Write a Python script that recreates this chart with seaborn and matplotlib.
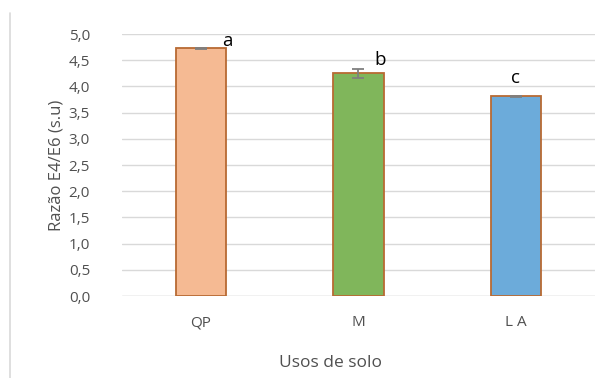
import matplotlib
matplotlib.use("Agg")
import matplotlib.pyplot as plt
import seaborn as sns
import pandas as pd
from matplotlib.lines import Line2D

usos = ["QP", "M", "L A"]
razao = [4.73, 4.25, 3.81]
erro = [0.01, 0.09, 0.01]
letras = ["a", "b", "c"]
cores = ["#F5BA93", "#80B65B", "#6CABDA"]

sns.set_theme(style="white")
plt.rcParams["font.family"] = ["Open Sans", "DejaVu Sans"]

df = pd.DataFrame({"uso": usos, "razao": razao})

fig = plt.figure(figsize=(6.05, 3.78), dpi=100)
ax = fig.add_axes([0.2017, 0.2169, 0.7813, 0.6931])

sns.barplot(data=df, x="uso", y="razao", hue="uso", palette=cores,
            order=usos, legend=False, width=0.32, ax=ax,
            edgecolor="#B86A33", linewidth=1.3, errorbar=None, saturation=1)

ax.errorbar(range(len(usos)), razao, yerr=erro, fmt="none",
            ecolor="#7F7F7F", elinewidth=1.3, capsize=4, capthick=1.3, zorder=5)

# significance letters, placed beside/above each bar
desloc_x = [0.17, 0.14, 0.0]
desloc_y = [0.04, 0.16, 0.25]
for i, (v, t) in enumerate(zip(razao, letras)):
    ax.text(i + desloc_x[i], v + desloc_y[i], t, ha="center", va="baseline",
            fontsize=13.5, color="black")

ax.set_ylim(0, 5.0)
ax.set_xlim(-0.5, 2.5)
ax.set_yticks([i * 0.5 for i in range(11)])
ax.set_yticklabels([f"{i * 0.5:.1f}".replace(".", ",") for i in range(11)])
ax.yaxis.grid(True, color="#D9D9D9", linewidth=1.0)
ax.set_axisbelow(True)
for s in ax.spines.values():
    s.set_visible(False)
ax.axhline(0, color="#D9D9D9", linewidth=1.0, zorder=0.5)

ax.tick_params(axis="both", length=0, labelsize=11, colors="#505050")
ax.tick_params(axis="y", pad=23)
ax.tick_params(axis="x", pad=14)
ax.set_xlabel("Usos de solo", fontsize=12.5, color="#505050")
ax.xaxis.set_label_coords(0.44, -0.225)
ax.set_ylabel("Razão E4/E6 (s.u)", fontsize=12, color="#505050", labelpad=3)

# chart frame edge on the left
fig.add_artist(Line2D([10 / 605, 10 / 605], [0, 1 - 13 / 378],
                      transform=fig.transFigure, color="#D9D9D9", linewidth=1.2))

fig.savefig("out.png", dpi=100)
